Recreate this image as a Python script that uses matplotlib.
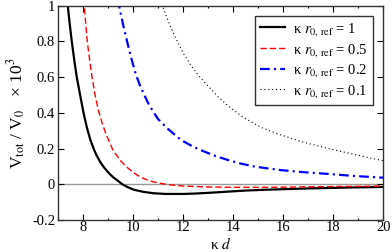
import matplotlib
matplotlib.use("Agg")
import matplotlib.pyplot as plt
from matplotlib.ticker import MultipleLocator

plt.rcParams['font.family'] = ['Liberation Serif', 'DejaVu Serif']
plt.rcParams['mathtext.fontset'] = 'stix'
plt.rcParams['axes.unicode_minus'] = False
plt.rcParams['lines.scale_dashes'] = False

# curves
x_r1 = [7.3, 7.39, 7.47, 7.55, 7.65, 7.75, 7.87, 8.02, 8.15, 8.29, 8.45, 8.58,
        8.7, 8.83, 8.96, 9.08, 9.2, 9.37, 9.57, 9.8, 10.02, 10.4, 10.8, 11.3,
        12.0, 12.45, 13.0, 13.8, 14.5, 15.2, 15.87, 17.0, 18.0, 19.0, 20.0]
y_r1 = [1.12, 1.0, 0.895, 0.8, 0.695, 0.6, 0.51, 0.4, 0.32, 0.25, 0.19, 0.152,
        0.122, 0.096, 0.074, 0.056, 0.04, 0.022, 0.0, -0.017, -0.03, -0.042,
        -0.05, -0.054, -0.054, -0.052, -0.048, -0.041, -0.035, -0.031, -0.028,
        -0.023, -0.02, -0.017, -0.015]

x_r05 = [7.98, 8.05, 8.11, 8.17, 8.26, 8.35, 8.48, 8.62, 8.78, 8.95, 9.2, 9.5,
         9.8, 10.05, 10.3, 10.55, 10.8, 11.1, 11.6, 12.0, 13.0, 14.0, 15.5,
         17.0, 18.5, 20.0]
y_r05 = [1.09, 1.0, 0.895, 0.8, 0.7, 0.61, 0.5, 0.41, 0.335, 0.27, 0.19, 0.132,
         0.09, 0.062, 0.04, 0.025, 0.014, 0.005, -0.005, -0.01, -0.015, -0.017,
         -0.017, -0.014, -0.012, -0.01]

x_r02 = [9.38, 9.44, 9.6, 9.76, 9.93, 10.1, 10.27, 10.45, 10.6, 10.77, 11.0,
         11.37, 11.9, 12.4, 12.85, 13.3, 13.79, 14.3, 14.86, 15.87, 16.8, 17.8,
         18.9, 20.0]
y_r02 = [1.04, 1.0, 0.895, 0.8, 0.705, 0.62, 0.555, 0.5, 0.455, 0.415, 0.365,
         0.313, 0.25, 0.21, 0.183, 0.158, 0.136, 0.116, 0.099, 0.08, 0.068,
         0.058, 0.046, 0.037]

x_r01 = [11.1, 11.17, 11.47, 11.77, 12.03, 12.31, 12.6, 12.9, 13.4, 13.79,
         14.4, 15.13, 15.53, 15.87, 16.8, 17.82, 19.0, 20.0]
y_r01 = [1.03, 1.0, 0.89, 0.8, 0.728, 0.667, 0.612, 0.565, 0.49, 0.44, 0.375,
         0.318, 0.296, 0.278, 0.236, 0.2, 0.162, 0.132]

labels = [r"κ $r_{0,\,\mathrm{ref}}$ = 1", r"κ $r_{0,\,\mathrm{ref}}$ = 0.5",
          r"κ $r_{0,\,\mathrm{ref}}$ = 0.2", r"κ $r_{0,\,\mathrm{ref}}$ = 0.1"]

fig = plt.figure(figsize=(3.92, 2.52), dpi=100)
ax = fig.add_axes([0.148, 0.127, 0.83, 0.85])

ax.axhline(0, color='#999999', lw=1.0, zorder=1)

ax.plot(x_r1, y_r1, color='black', lw=1.6, label=labels[0])
ax.plot(x_r05, y_r05, color='red', lw=1.0, dashes=(4.5, 2.2), label=labels[1])
ax.plot(x_r02, y_r02, color='blue', lw=1.6, dashes=(7, 3, 1.5, 3), label=labels[2])
ax.plot(x_r01, y_r01, color='black', lw=0.8, dashes=(0.8, 2.0), label=labels[3])

ax.set_xlim(7, 20)
ax.set_ylim(-0.2, 1)
ax.xaxis.set_minor_locator(MultipleLocator(1))
ax.set_yticks([-0.2, 0, 0.2, 0.4, 0.6, 0.8, 1])
ax.set_yticklabels(['-0.2', '0', '0.2', '0.4', '0.6', '0.8', '1'])
ax.set_xticks([8, 10, 12, 14, 16, 18, 20])
ax.set_xticklabels(['8', '10', '12', '14', '16', '18', '20'])

ax.tick_params(which='both', direction='in', top=True, right=True, labelsize=10.5)
ax.tick_params(which='major', length=4, width=0.8, pad=2)
ax.tick_params(axis='x', which='major', pad=1)
ax.tick_params(which='minor', length=1.5, width=0.8)
for s in ax.spines.values():
    s.set_linewidth(1.0)
    s.set_color('#333333')

ax.set_xlabel(r"κ $d$", fontsize=11)
ax.xaxis.set_label_coords(0.5, -0.075)
ax.set_ylabel(r"V$_{\mathrm{tot}}$ / V$_0$   × 10$^3$", fontsize=12.5, labelpad=3)

leg = ax.legend(loc='upper right', bbox_to_anchor=(373 / 392, 1 - 16 / 252),
                bbox_transform=fig.transFigure, borderaxespad=0, fancybox=False,
                edgecolor='#333333', framealpha=1, fontsize=10.5, handlelength=1.7,
                labelspacing=0.25, borderpad=0.35, handletextpad=0.6)
leg.get_frame().set_linewidth(1.0)

fig.savefig("out.png", dpi=100)
